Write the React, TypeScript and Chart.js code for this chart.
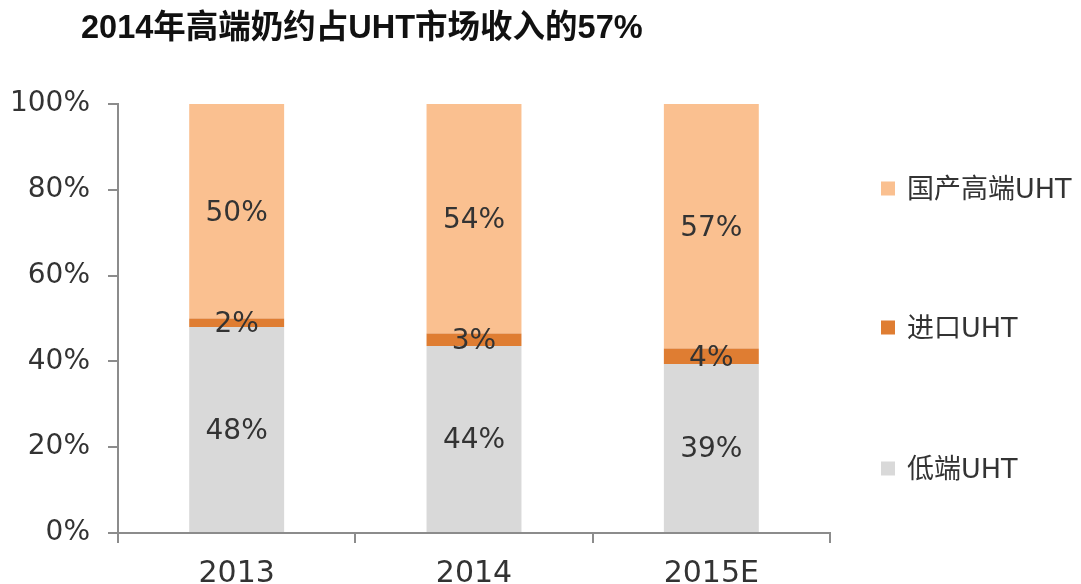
import React, { useEffect, useRef } from "react";
import { Chart, registerables } from "chart.js";

Chart.register(...registerables);

const categories = ["2013", "2014", "2015E"];
const lowEnd = [48, 43.6, 39.4];
const imported = [2, 2.9, 3.6];
const domesticHigh = [50, 53.5, 57];
const yTicks = [0, 20, 40, 60, 80, 100];

const title = "2014年高端奶约占UHT市场收入的57%";
const seriesNames = ["低端UHT", "进口UHT", "国产高端UHT"];
const colors = ["#D9D9D9", "#DF7D32", "#FAC090"];

const tickFont = '"DejaVu Sans", "Noto Sans CJK SC", sans-serif';

const labelPlugin = {
  id: "barLabels",
  afterDatasetsDraw(chart: any) {
    const ctx = chart.ctx;
    ctx.save();
    ctx.font = `28px ${tickFont}`;
    ctx.fillStyle = "#333333";
    ctx.textAlign = "center";
    ctx.textBaseline = "middle";
    chart.data.datasets.forEach((ds: any, di: number) => {
      const meta = chart.getDatasetMeta(di);
      meta.data.forEach((bar: any, i: number) => {
        const v = ds.data[i];
        const cy = (bar.y + bar.base) / 2;
        ctx.fillText(Math.round(v) + "%", bar.x, cy + 2);
      });
    });
    ctx.restore();
  },
};

export default function App() {
  const ref = useRef<HTMLCanvasElement | null>(null);

  useEffect(() => {
    if (!ref.current) return;
    const chart = new Chart(ref.current, {
      type: "bar",
      data: {
        labels: categories,
        datasets: [
          { label: seriesNames[0], data: lowEnd, backgroundColor: colors[0] },
          { label: seriesNames[1], data: imported, backgroundColor: colors[1] },
          { label: seriesNames[2], data: domesticHigh, backgroundColor: colors[2] },
        ],
      },
      options: {
        responsive: false,
        maintainAspectRatio: false,
        animation: false,
        datasets: { bar: { barPercentage: 0.4, categoryPercentage: 1 } },
        layout: { padding: { top: 104, right: 251, left: 0, bottom: 0 } },
        plugins: { legend: { display: false }, tooltip: { enabled: false }, title: { display: false } },
        scales: {
          x: {
            stacked: true,
            grid: { display: true, drawOnChartArea: false, drawTicks: true, tickLength: 10, color: "#8c8c8c", lineWidth: 2, offset: true },
            border: { color: "#8c8c8c", width: 2 },
            ticks: { font: { family: tickFont, size: 30 }, color: "#333333", padding: 13 },
            afterFit: (s: any) => { s.height = 51; },
          },
          y: {
            stacked: true,
            min: 0,
            max: 100,
            afterBuildTicks: (s: any) => { s.ticks = yTicks.map((v) => ({ value: v })); },
            grid: { display: true, drawOnChartArea: false, drawTicks: true, tickLength: 10, color: "#8c8c8c", lineWidth: 2 },
            border: { color: "#8c8c8c", width: 2 },
            ticks: { font: { family: tickFont, size: 28 }, color: "#333333", padding: 18, callback: (v: any) => v + "%" },
            afterFit: (s: any) => { s.width = 118; },
          },
        },
      },
      plugins: [labelPlugin],
    });
    return () => chart.destroy();
  }, []);

  const legendItems = [
    { name: seriesNames[2], color: colors[2], y: 188 },
    { name: seriesNames[1], color: colors[1], y: 327 },
    { name: seriesNames[0], color: colors[0], y: 468 },
  ];

  return (
    <div style={{ position: "fixed", left: 0, top: 0, width: 1081, height: 584, background: "#fff", overflow: "hidden" }}>
      <canvas ref={ref} width={1081} height={584} style={{ position: "absolute", left: 0, top: 0 }} />
      <div
        style={{
          position: "absolute",
          left: 81,
          top: 27,
          transform: "translateY(-50%)",
          fontFamily: '"Liberation Sans", "Noto Sans CJK SC", sans-serif',
          fontWeight: "bold",
          fontSize: 32.5,
          color: "#111",
          whiteSpace: "nowrap",
          lineHeight: 1,
        }}
      >
        {title}
      </div>
      {legendItems.map((it) => (
        <div
          key={it.name}
          style={{
            position: "absolute",
            left: 881,
            top: it.y,
            transform: "translateY(-50%)",
            display: "flex",
            alignItems: "center",
            whiteSpace: "nowrap",
            fontFamily: tickFont,
            fontSize: 27,
            color: "#333",
            lineHeight: 1,
          }}
        >
          <span style={{ display: "inline-block", width: 14, height: 14, background: it.color, marginRight: 12 }} />
          <span>{it.name}</span>
        </div>
      ))}
    </div>
  );
}
